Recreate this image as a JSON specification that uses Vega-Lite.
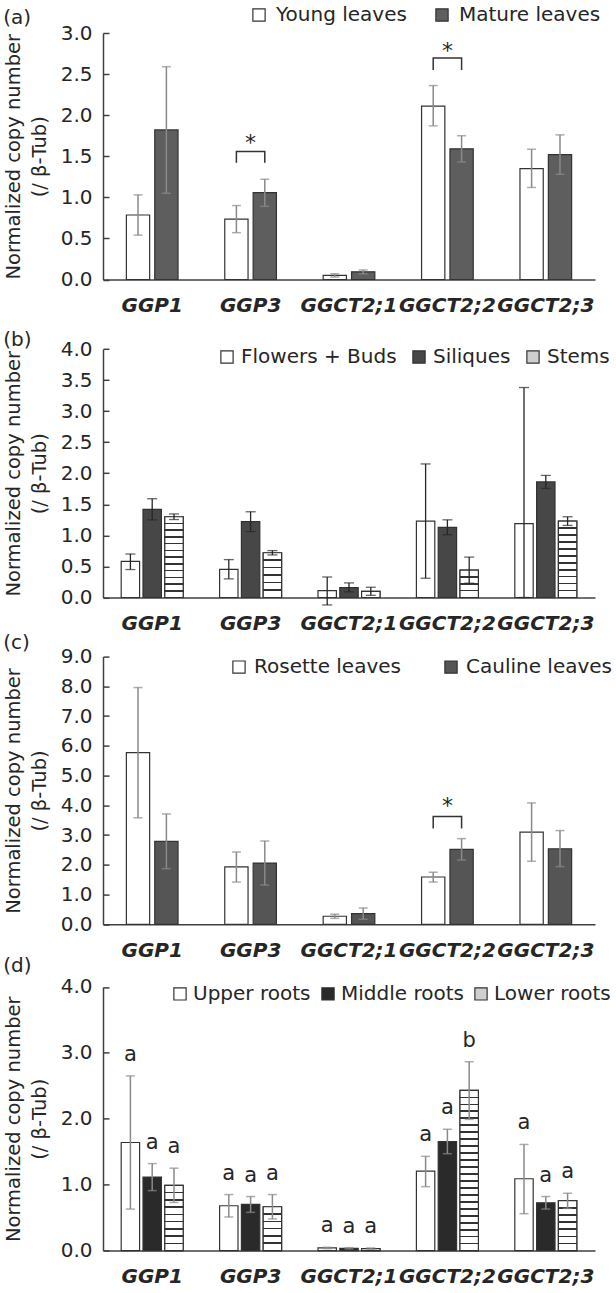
{
"$schema": "https://vega.github.io/schema/vega-lite/v6.json",
"background": "white",
"padding": {"left": 3, "top": 5, "right": 2, "bottom": 2},
"spacing": 58.8,
"bounds": "flush",
"resolve": {"scale": {"x": "independent", "y": "independent", "xOffset": "independent", "fill": "independent"}, "legend": {"fill": "independent"}},
"config": {
  "font": "DejaVu Sans",
  "view": {"stroke": null},
  "axis": {"domainColor": "#404040", "domainWidth": 1.5, "labelColor": "#262626", "titleColor": "#262626", "grid": false},
  "axisX": {"ticks": false, "labelFontSize": 20, "labelFontWeight": "bold", "labelFontStyle": "italic", "labelPadding": 16, "labelAngle": 0, "labelOverlap": false, "labelBound": false},
  "axisY": {"tickSize": -6, "tickColor": "#404040", "tickWidth": 1.5, "tickCount": 20, "labelFontSize": 20, "labelPadding": 17, "labelOverlap": false, "titleFontSize": 19.5, "titleFontWeight": "normal", "titleLineHeight": 26, "titlePadding": 11, "format": ".1f"},
  "legend": {"orient": "none", "direction": "horizontal", "symbolType": "square", "symbolSize": 150, "symbolStrokeColor": "#333333", "symbolStrokeWidth": 1.2, "labelFontSize": 20, "labelColor": "#262626", "labelLimit": 300},
  "title": {"anchor": "start", "frame": "bounds", "fontSize": 20, "fontWeight": "normal", "color": "#262626"}
},
"datasets": {
  "a": [
    {"gene": "GGP1", "tissue": "Young leaves", "value": 0.785, "lo": 0.54, "hi": 1.03},
    {"gene": "GGP1", "tissue": "Mature leaves", "value": 1.82, "lo": 1.05, "hi": 2.59},
    {"gene": "GGP3", "tissue": "Young leaves", "value": 0.735, "lo": 0.57, "hi": 0.9},
    {"gene": "GGP3", "tissue": "Mature leaves", "value": 1.057, "lo": 0.89, "hi": 1.22},
    {"gene": "GGCT2;1", "tissue": "Young leaves", "value": 0.05, "lo": 0.03, "hi": 0.07},
    {"gene": "GGCT2;1", "tissue": "Mature leaves", "value": 0.093, "lo": 0.07, "hi": 0.115},
    {"gene": "GGCT2;2", "tissue": "Young leaves", "value": 2.11, "lo": 1.87, "hi": 2.36},
    {"gene": "GGCT2;2", "tissue": "Mature leaves", "value": 1.59, "lo": 1.43, "hi": 1.75},
    {"gene": "GGCT2;3", "tissue": "Young leaves", "value": 1.35, "lo": 1.12, "hi": 1.585},
    {"gene": "GGCT2;3", "tissue": "Mature leaves", "value": 1.52, "lo": 1.28, "hi": 1.76}
  ],
  "b": [
    {"gene": "GGP1", "tissue": "Flowers + Buds", "value": 0.58, "lo": 0.45, "hi": 0.7},
    {"gene": "GGP1", "tissue": "Siliques", "value": 1.42, "lo": 1.25, "hi": 1.59},
    {"gene": "GGP1", "tissue": "Stems", "value": 1.3, "lo": 1.255, "hi": 1.345},
    {"gene": "GGP3", "tissue": "Flowers + Buds", "value": 0.454, "lo": 0.3, "hi": 0.61},
    {"gene": "GGP3", "tissue": "Siliques", "value": 1.22, "lo": 1.06, "hi": 1.38},
    {"gene": "GGP3", "tissue": "Stems", "value": 0.72, "lo": 0.685, "hi": 0.755},
    {"gene": "GGCT2;1", "tissue": "Flowers + Buds", "value": 0.11, "lo": -0.12, "hi": 0.33},
    {"gene": "GGCT2;1", "tissue": "Siliques", "value": 0.16, "lo": 0.09, "hi": 0.235},
    {"gene": "GGCT2;1", "tissue": "Stems", "value": 0.1, "lo": 0.035, "hi": 0.165},
    {"gene": "GGCT2;2", "tissue": "Flowers + Buds", "value": 1.23, "lo": 0.31, "hi": 2.15},
    {"gene": "GGCT2;2", "tissue": "Siliques", "value": 1.13, "lo": 1.01, "hi": 1.25},
    {"gene": "GGCT2;2", "tissue": "Stems", "value": 0.44, "lo": 0.23, "hi": 0.65},
    {"gene": "GGCT2;3", "tissue": "Flowers + Buds", "value": 1.19, "lo": 0, "hi": 3.38},
    {"gene": "GGCT2;3", "tissue": "Siliques", "value": 1.86, "lo": 1.755, "hi": 1.965},
    {"gene": "GGCT2;3", "tissue": "Stems", "value": 1.23, "lo": 1.16, "hi": 1.3}
  ],
  "c": [
    {"gene": "GGP1", "tissue": "Rosette leaves", "value": 5.77, "lo": 3.58, "hi": 7.96},
    {"gene": "GGP1", "tissue": "Cauline leaves", "value": 2.79, "lo": 1.87, "hi": 3.71},
    {"gene": "GGP3", "tissue": "Rosette leaves", "value": 1.93, "lo": 1.42, "hi": 2.43},
    {"gene": "GGP3", "tissue": "Cauline leaves", "value": 2.06, "lo": 1.32, "hi": 2.8},
    {"gene": "GGCT2;1", "tissue": "Rosette leaves", "value": 0.27, "lo": 0.2, "hi": 0.34},
    {"gene": "GGCT2;1", "tissue": "Cauline leaves", "value": 0.36, "lo": 0.17, "hi": 0.55},
    {"gene": "GGCT2;2", "tissue": "Rosette leaves", "value": 1.59, "lo": 1.42, "hi": 1.75},
    {"gene": "GGCT2;2", "tissue": "Cauline leaves", "value": 2.52, "lo": 2.16, "hi": 2.88},
    {"gene": "GGCT2;3", "tissue": "Rosette leaves", "value": 3.1, "lo": 2.12, "hi": 4.08},
    {"gene": "GGCT2;3", "tissue": "Cauline leaves", "value": 2.54, "lo": 1.94, "hi": 3.15}
  ],
  "d": [
    {"gene": "GGP1", "tissue": "Upper roots", "value": 1.64, "lo": 0.63, "hi": 2.65, "letter": "a"},
    {"gene": "GGP1", "tissue": "Middle roots", "value": 1.115, "lo": 0.91, "hi": 1.32, "letter": "a"},
    {"gene": "GGP1", "tissue": "Lower roots", "value": 0.99, "lo": 0.73, "hi": 1.25, "letter": "a"},
    {"gene": "GGP3", "tissue": "Upper roots", "value": 0.68, "lo": 0.51, "hi": 0.85, "letter": "a"},
    {"gene": "GGP3", "tissue": "Middle roots", "value": 0.7, "lo": 0.58, "hi": 0.82, "letter": "a"},
    {"gene": "GGP3", "tissue": "Lower roots", "value": 0.665, "lo": 0.48, "hi": 0.85, "letter": "a"},
    {"gene": "GGCT2;1", "tissue": "Upper roots", "value": 0.04, "lo": 0.03, "hi": 0.05, "letter": "a"},
    {"gene": "GGCT2;1", "tissue": "Middle roots", "value": 0.035, "lo": 0.025, "hi": 0.045, "letter": "a"},
    {"gene": "GGCT2;1", "tissue": "Lower roots", "value": 0.03, "lo": 0.02, "hi": 0.04, "letter": "a"},
    {"gene": "GGCT2;2", "tissue": "Upper roots", "value": 1.205, "lo": 0.97, "hi": 1.43, "letter": "a"},
    {"gene": "GGCT2;2", "tissue": "Middle roots", "value": 1.655, "lo": 1.47, "hi": 1.84, "letter": "a"},
    {"gene": "GGCT2;2", "tissue": "Lower roots", "value": 2.43, "lo": 1.99, "hi": 2.865, "letter": "b"},
    {"gene": "GGCT2;3", "tissue": "Upper roots", "value": 1.09, "lo": 0.56, "hi": 1.61, "letter": "a"},
    {"gene": "GGCT2;3", "tissue": "Middle roots", "value": 0.726, "lo": 0.63, "hi": 0.82, "letter": "a"},
    {"gene": "GGCT2;3", "tissue": "Lower roots", "value": 0.757, "lo": 0.64, "hi": 0.87, "letter": "a"}
  ],
  "brackets": [
    {"panel": "a", "gene": "GGP3", "tissue": "Young leaves", "y": 1.42, "k": 0},
    {"panel": "a", "gene": "GGP3", "tissue": "Young leaves", "y": 1.557, "k": 1},
    {"panel": "a", "gene": "GGP3", "tissue": "Mature leaves", "y": 1.557, "k": 2},
    {"panel": "a", "gene": "GGP3", "tissue": "Mature leaves", "y": 1.42, "k": 3},
    {"panel": "a", "gene": "GGCT2;2", "tissue": "Young leaves", "y": 2.55, "k": 0},
    {"panel": "a", "gene": "GGCT2;2", "tissue": "Young leaves", "y": 2.695, "k": 1},
    {"panel": "a", "gene": "GGCT2;2", "tissue": "Mature leaves", "y": 2.695, "k": 2},
    {"panel": "a", "gene": "GGCT2;2", "tissue": "Mature leaves", "y": 2.55, "k": 3},
    {"panel": "c", "gene": "GGCT2;2", "tissue": "Rosette leaves", "y": 3.22, "k": 0},
    {"panel": "c", "gene": "GGCT2;2", "tissue": "Rosette leaves", "y": 3.62, "k": 1},
    {"panel": "c", "gene": "GGCT2;2", "tissue": "Cauline leaves", "y": 3.62, "k": 2},
    {"panel": "c", "gene": "GGCT2;2", "tissue": "Cauline leaves", "y": 3.22, "k": 3}
  ],
  "stars": [
    {"panel": "a", "gene": "GGP3", "y": 1.72, "label": "*"},
    {"panel": "a", "gene": "GGCT2;2", "y": 2.84, "label": "*"},
    {"panel": "c", "gene": "GGCT2;2", "y": 4.15, "label": "*"}
  ]
},
"vconcat": [
  {
    "title": {"text": "(a)", "offset": -23},
    "width": 492, "height": 246.5,
    "data": {"name": "a"},
    "layer": [
      {"mark": {"type": "bar", "stroke": "#333333", "strokeWidth": 1.2},
       "encoding": {
         "x": {"field": "gene", "type": "nominal", "sort": ["GGP1","GGP3","GGCT2;1","GGCT2;2","GGCT2;3"], "title": null, "scale": {"paddingInner": 0.475, "paddingOuter": 0.2375}},
         "xOffset": {"field": "tissue", "type": "nominal", "sort": ["Young leaves","Mature leaves"], "scale": {"paddingInner": 0.18}},
         "y": {"field": "value", "type": "quantitative", "stack": null, "scale": {"domain": [0, 3]}, "axis": {"values": [0,0.5,1,1.5,2,2.5,3], "tickCount": 20, "labelOverlap": false}, "title": ["Normalized copy number", "(/ β-Tub)"]},
         "fill": {"field": "tissue", "type": "nominal", "scale": {"domain": ["Young leaves","Mature leaves"], "range": ["#ffffff","#5e5e5e"]}, "legend": {"title": null, "legendX": 146, "legendY": -28, "columnPadding": 25, "labelOffset": 7}}
       }},
      {"mark": {"type": "rule", "color": "#8a8a8a", "strokeWidth": 1.5},
       "encoding": {
         "x": {"field": "gene", "type": "nominal", "sort": ["GGP1","GGP3","GGCT2;1","GGCT2;2","GGCT2;3"], "title": null},
         "xOffset": {"field": "tissue", "type": "nominal", "sort": ["Young leaves","Mature leaves"]},
         "y": {"field": "lo", "type": "quantitative"}, "y2": {"field": "hi"}}},
      {"mark": {"type": "tick", "orient": "horizontal", "size": 9, "thickness": 1.5, "color": "#8a8a8a"},
       "encoding": {
         "x": {"field": "gene", "type": "nominal", "sort": ["GGP1","GGP3","GGCT2;1","GGCT2;2","GGCT2;3"], "title": null},
         "xOffset": {"field": "tissue", "type": "nominal", "sort": ["Young leaves","Mature leaves"]},
         "y": {"field": "hi", "type": "quantitative"}}},
      {"mark": {"type": "tick", "orient": "horizontal", "size": 9, "thickness": 1.5, "color": "#8a8a8a"},
       "encoding": {
         "x": {"field": "gene", "type": "nominal", "sort": ["GGP1","GGP3","GGCT2;1","GGCT2;2","GGCT2;3"], "title": null},
         "xOffset": {"field": "tissue", "type": "nominal", "sort": ["Young leaves","Mature leaves"]},
         "y": {"field": "lo", "type": "quantitative"}}},
      {"data": {"name": "brackets"}, "transform": [{"filter": "datum.panel == 'a'"}],
       "mark": {"type": "line", "color": "#333333", "strokeWidth": 1.5},
       "encoding": {
         "x": {"field": "gene", "type": "nominal", "sort": ["GGP1","GGP3","GGCT2;1","GGCT2;2","GGCT2;3"], "title": null},
         "xOffset": {"field": "tissue", "type": "nominal", "sort": ["Young leaves","Mature leaves"]},
         "y": {"field": "y", "type": "quantitative"},
         "detail": {"field": "gene", "type": "nominal"},
         "order": {"field": "k", "type": "quantitative"}}},
      {"data": {"name": "stars"}, "transform": [{"filter": "datum.panel == 'a'"}],
       "mark": {"type": "text", "fontSize": 22, "baseline": "alphabetic", "dy": 12, "color": "#262626"},
       "encoding": {
         "x": {"field": "gene", "type": "nominal", "sort": ["GGP1","GGP3","GGCT2;1","GGCT2;2","GGCT2;3"], "title": null},
         "y": {"field": "y", "type": "quantitative"},
         "text": {"field": "label"}}}
    ]
  },
  {
    "title": {"text": "(b)", "offset": -11},
    "width": 492, "height": 258.7,
    "data": {"name": "b"},
    "layer": [
      {"mark": {"type": "bar", "stroke": "#333333", "strokeWidth": 1.2},
       "encoding": {
         "x": {"field": "gene", "type": "nominal", "sort": ["GGP1","GGP3","GGCT2;1","GGCT2;2","GGCT2;3"], "title": null, "scale": {"paddingInner": 0.37, "paddingOuter": 0.185}},
         "xOffset": {"field": "tissue", "type": "nominal", "sort": ["Flowers + Buds","Siliques","Stems"], "scale": {"paddingInner": 0.156}},
         "y": {"field": "value", "type": "quantitative", "stack": null, "scale": {"domain": [0, 4], "range": [258.7, 10.2]}, "axis": {"values": [0,0.5,1,1.5,2,2.5,3,3.5,4], "tickCount": 20, "labelOverlap": false}, "title": ["Normalized copy number", "(/ β-Tub)"]},
         "fill": {"field": "tissue", "type": "nominal", "scale": {"domain": ["Flowers + Buds","Siliques","Stems"], "range": ["#ffffff","#474747","#cfcfcf"]}, "legend": {"title": null, "legendX": 114, "legendY": 8.2, "columnPadding": 12, "labelOffset": 4}}
       }},
      {"transform": [{"filter": "datum.tissue == 'Stems' && datum.gene == 'GGP1'"}],
       "mark": {"type": "bar", "stroke": "#333333", "strokeWidth": 1.2, "fill": {"gradient": "linear", "x1": 0, "y1": 0, "x2": 0, "y2": 1, "stops": [
         {"offset": 0, "color": "#fff"},
         {"offset": 0.0734, "color": "#fff"}, {"offset": 0.0734, "color": "#333"}, {"offset": 0.0932, "color": "#333"}, {"offset": 0.0932, "color": "#fff"},
         {"offset": 0.1568, "color": "#fff"}, {"offset": 0.1568, "color": "#333"}, {"offset": 0.1766, "color": "#333"}, {"offset": 0.1766, "color": "#fff"},
         {"offset": 0.2401, "color": "#fff"}, {"offset": 0.2401, "color": "#333"}, {"offset": 0.2599, "color": "#333"}, {"offset": 0.2599, "color": "#fff"},
         {"offset": 0.3234, "color": "#fff"}, {"offset": 0.3234, "color": "#333"}, {"offset": 0.3432, "color": "#333"}, {"offset": 0.3432, "color": "#fff"},
         {"offset": 0.4068, "color": "#fff"}, {"offset": 0.4068, "color": "#333"}, {"offset": 0.4266, "color": "#333"}, {"offset": 0.4266, "color": "#fff"},
         {"offset": 0.4901, "color": "#fff"}, {"offset": 0.4901, "color": "#333"}, {"offset": 0.5099, "color": "#333"}, {"offset": 0.5099, "color": "#fff"},
         {"offset": 0.5734, "color": "#fff"}, {"offset": 0.5734, "color": "#333"}, {"offset": 0.5932, "color": "#333"}, {"offset": 0.5932, "color": "#fff"},
         {"offset": 0.6568, "color": "#fff"}, {"offset": 0.6568, "color": "#333"}, {"offset": 0.6766, "color": "#333"}, {"offset": 0.6766, "color": "#fff"},
         {"offset": 0.7401, "color": "#fff"}, {"offset": 0.7401, "color": "#333"}, {"offset": 0.7599, "color": "#333"}, {"offset": 0.7599, "color": "#fff"},
         {"offset": 0.8234, "color": "#fff"}, {"offset": 0.8234, "color": "#333"}, {"offset": 0.8432, "color": "#333"}, {"offset": 0.8432, "color": "#fff"},
         {"offset": 0.9068, "color": "#fff"}, {"offset": 0.9068, "color": "#333"}, {"offset": 0.9266, "color": "#333"}, {"offset": 0.9266, "color": "#fff"},
         {"offset": 1, "color": "#fff"}]}},
       "encoding": {
         "x": {"field": "gene", "type": "nominal", "sort": ["GGP1","GGP3","GGCT2;1","GGCT2;2","GGCT2;3"], "title": null},
         "xOffset": {"field": "tissue", "type": "nominal", "sort": ["Flowers + Buds","Siliques","Stems"]},
         "y": {"field": "value", "type": "quantitative", "stack": null}}},
      {"transform": [{"filter": "datum.tissue == 'Stems' && datum.gene == 'GGP3'"}],
       "mark": {"type": "bar", "stroke": "#333333", "strokeWidth": 1.2, "fill": {"gradient": "linear", "x1": 0, "y1": 0, "x2": 0, "y2": 1, "stops": [
         {"offset": 0, "color": "#fff"},
         {"offset": 0.1488, "color": "#fff"}, {"offset": 0.1488, "color": "#333"}, {"offset": 0.1846, "color": "#333"}, {"offset": 0.1846, "color": "#fff"},
         {"offset": 0.3154, "color": "#fff"}, {"offset": 0.3154, "color": "#333"}, {"offset": 0.3512, "color": "#333"}, {"offset": 0.3512, "color": "#fff"},
         {"offset": 0.4821, "color": "#fff"}, {"offset": 0.4821, "color": "#333"}, {"offset": 0.5179, "color": "#333"}, {"offset": 0.5179, "color": "#fff"},
         {"offset": 0.6488, "color": "#fff"}, {"offset": 0.6488, "color": "#333"}, {"offset": 0.6846, "color": "#333"}, {"offset": 0.6846, "color": "#fff"},
         {"offset": 0.8154, "color": "#fff"}, {"offset": 0.8154, "color": "#333"}, {"offset": 0.8512, "color": "#333"}, {"offset": 0.8512, "color": "#fff"},
         {"offset": 1, "color": "#fff"}]}},
       "encoding": {
         "x": {"field": "gene", "type": "nominal", "sort": ["GGP1","GGP3","GGCT2;1","GGCT2;2","GGCT2;3"], "title": null},
         "xOffset": {"field": "tissue", "type": "nominal", "sort": ["Flowers + Buds","Siliques","Stems"]},
         "y": {"field": "value", "type": "quantitative", "stack": null}}},
      {"transform": [{"filter": "datum.tissue == 'Stems' && datum.gene == 'GGCT2;1'"}],
       "mark": {"type": "bar", "stroke": "#333333", "strokeWidth": 1.2, "fill": "#ffffff"},
       "encoding": {
         "x": {"field": "gene", "type": "nominal", "sort": ["GGP1","GGP3","GGCT2;1","GGCT2;2","GGCT2;3"], "title": null},
         "xOffset": {"field": "tissue", "type": "nominal", "sort": ["Flowers + Buds","Siliques","Stems"]},
         "y": {"field": "value", "type": "quantitative", "stack": null}}},
      {"transform": [{"filter": "datum.tissue == 'Stems' && datum.gene == 'GGCT2;2'"}],
       "mark": {"type": "bar", "stroke": "#333333", "strokeWidth": 1.2, "fill": {"gradient": "linear", "x1": 0, "y1": 0, "x2": 0, "y2": 1, "stops": [
         {"offset": 0, "color": "#fff"},
         {"offset": 0.2207, "color": "#fff"}, {"offset": 0.2207, "color": "#333"}, {"offset": 0.2793, "color": "#333"}, {"offset": 0.2793, "color": "#fff"},
         {"offset": 0.4707, "color": "#fff"}, {"offset": 0.4707, "color": "#333"}, {"offset": 0.5293, "color": "#333"}, {"offset": 0.5293, "color": "#fff"},
         {"offset": 0.7207, "color": "#fff"}, {"offset": 0.7207, "color": "#333"}, {"offset": 0.7793, "color": "#333"}, {"offset": 0.7793, "color": "#fff"},
         {"offset": 1, "color": "#fff"}]}},
       "encoding": {
         "x": {"field": "gene", "type": "nominal", "sort": ["GGP1","GGP3","GGCT2;1","GGCT2;2","GGCT2;3"], "title": null},
         "xOffset": {"field": "tissue", "type": "nominal", "sort": ["Flowers + Buds","Siliques","Stems"]},
         "y": {"field": "value", "type": "quantitative", "stack": null}}},
      {"transform": [{"filter": "datum.tissue == 'Stems' && datum.gene == 'GGCT2;3'"}],
       "mark": {"type": "bar", "stroke": "#333333", "strokeWidth": 1.2, "fill": {"gradient": "linear", "x1": 0, "y1": 0, "x2": 0, "y2": 1, "stops": [
         {"offset": 0, "color": "#fff"},
         {"offset": 0.0804, "color": "#fff"}, {"offset": 0.0804, "color": "#333"}, {"offset": 0.1014, "color": "#333"}, {"offset": 0.1014, "color": "#fff"},
         {"offset": 0.1713, "color": "#fff"}, {"offset": 0.1713, "color": "#333"}, {"offset": 0.1923, "color": "#333"}, {"offset": 0.1923, "color": "#fff"},
         {"offset": 0.2622, "color": "#fff"}, {"offset": 0.2622, "color": "#333"}, {"offset": 0.2832, "color": "#333"}, {"offset": 0.2832, "color": "#fff"},
         {"offset": 0.3531, "color": "#fff"}, {"offset": 0.3531, "color": "#333"}, {"offset": 0.3741, "color": "#333"}, {"offset": 0.3741, "color": "#fff"},
         {"offset": 0.4440, "color": "#fff"}, {"offset": 0.4440, "color": "#333"}, {"offset": 0.4650, "color": "#333"}, {"offset": 0.4650, "color": "#fff"},
         {"offset": 0.5350, "color": "#fff"}, {"offset": 0.5350, "color": "#333"}, {"offset": 0.5560, "color": "#333"}, {"offset": 0.5560, "color": "#fff"},
         {"offset": 0.6259, "color": "#fff"}, {"offset": 0.6259, "color": "#333"}, {"offset": 0.6469, "color": "#333"}, {"offset": 0.6469, "color": "#fff"},
         {"offset": 0.7168, "color": "#fff"}, {"offset": 0.7168, "color": "#333"}, {"offset": 0.7378, "color": "#333"}, {"offset": 0.7378, "color": "#fff"},
         {"offset": 0.8077, "color": "#fff"}, {"offset": 0.8077, "color": "#333"}, {"offset": 0.8287, "color": "#333"}, {"offset": 0.8287, "color": "#fff"},
         {"offset": 0.8986, "color": "#fff"}, {"offset": 0.8986, "color": "#333"}, {"offset": 0.9196, "color": "#333"}, {"offset": 0.9196, "color": "#fff"},
         {"offset": 1, "color": "#fff"}]}},
       "encoding": {
         "x": {"field": "gene", "type": "nominal", "sort": ["GGP1","GGP3","GGCT2;1","GGCT2;2","GGCT2;3"], "title": null},
         "xOffset": {"field": "tissue", "type": "nominal", "sort": ["Flowers + Buds","Siliques","Stems"]},
         "y": {"field": "value", "type": "quantitative", "stack": null}}},
      {"mark": {"type": "rule", "color": "#262626", "strokeWidth": 1.3},
       "encoding": {
         "x": {"field": "gene", "type": "nominal", "sort": ["GGP1","GGP3","GGCT2;1","GGCT2;2","GGCT2;3"], "title": null},
         "xOffset": {"field": "tissue", "type": "nominal", "sort": ["Flowers + Buds","Siliques","Stems"]},
         "y": {"field": "lo", "type": "quantitative"}, "y2": {"field": "hi"}}},
      {"mark": {"type": "tick", "orient": "horizontal", "size": 10, "thickness": 1.3, "color": "#262626"},
       "encoding": {
         "x": {"field": "gene", "type": "nominal", "sort": ["GGP1","GGP3","GGCT2;1","GGCT2;2","GGCT2;3"], "title": null},
         "xOffset": {"field": "tissue", "type": "nominal", "sort": ["Flowers + Buds","Siliques","Stems"]},
         "y": {"field": "hi", "type": "quantitative"}}},
      {"mark": {"type": "tick", "orient": "horizontal", "size": 10, "thickness": 1.3, "color": "#262626"},
       "encoding": {
         "x": {"field": "gene", "type": "nominal", "sort": ["GGP1","GGP3","GGCT2;1","GGCT2;2","GGCT2;3"], "title": null},
         "xOffset": {"field": "tissue", "type": "nominal", "sort": ["Flowers + Buds","Siliques","Stems"]},
         "y": {"field": "lo", "type": "quantitative"}}}
    ]
  },
  {
    "title": {"text": "(c)", "offset": -6},
    "width": 492, "height": 267.7,
    "data": {"name": "c"},
    "layer": [
      {"mark": {"type": "bar", "stroke": "#333333", "strokeWidth": 1.2},
       "encoding": {
         "x": {"field": "gene", "type": "nominal", "sort": ["GGP1","GGP3","GGCT2;1","GGCT2;2","GGCT2;3"], "title": null, "scale": {"paddingInner": 0.475, "paddingOuter": 0.2375}},
         "xOffset": {"field": "tissue", "type": "nominal", "sort": ["Rosette leaves","Cauline leaves"], "scale": {"paddingInner": 0.18}},
         "y": {"field": "value", "type": "quantitative", "stack": null, "scale": {"domain": [0, 9]}, "axis": {"values": [0,1,2,3,4,5,6,7,8,9], "tickCount": 20, "labelOverlap": false}, "title": ["Normalized copy number", "(/ β-Tub)"]},
         "fill": {"field": "tissue", "type": "nominal", "scale": {"domain": ["Rosette leaves","Cauline leaves"], "range": ["#ffffff","#555555"]}, "legend": {"title": null, "legendX": 126, "legendY": 0.5, "columnPadding": 40, "labelOffset": 5}}
       }},
      {"mark": {"type": "rule", "color": "#8a8a8a", "strokeWidth": 1.5},
       "encoding": {
         "x": {"field": "gene", "type": "nominal", "sort": ["GGP1","GGP3","GGCT2;1","GGCT2;2","GGCT2;3"], "title": null},
         "xOffset": {"field": "tissue", "type": "nominal", "sort": ["Rosette leaves","Cauline leaves"]},
         "y": {"field": "lo", "type": "quantitative"}, "y2": {"field": "hi"}}},
      {"mark": {"type": "tick", "orient": "horizontal", "size": 9, "thickness": 1.5, "color": "#8a8a8a"},
       "encoding": {
         "x": {"field": "gene", "type": "nominal", "sort": ["GGP1","GGP3","GGCT2;1","GGCT2;2","GGCT2;3"], "title": null},
         "xOffset": {"field": "tissue", "type": "nominal", "sort": ["Rosette leaves","Cauline leaves"]},
         "y": {"field": "hi", "type": "quantitative"}}},
      {"mark": {"type": "tick", "orient": "horizontal", "size": 9, "thickness": 1.5, "color": "#8a8a8a"},
       "encoding": {
         "x": {"field": "gene", "type": "nominal", "sort": ["GGP1","GGP3","GGCT2;1","GGCT2;2","GGCT2;3"], "title": null},
         "xOffset": {"field": "tissue", "type": "nominal", "sort": ["Rosette leaves","Cauline leaves"]},
         "y": {"field": "lo", "type": "quantitative"}}},
      {"data": {"name": "brackets"}, "transform": [{"filter": "datum.panel == 'c'"}],
       "mark": {"type": "line", "color": "#333333", "strokeWidth": 1.5},
       "encoding": {
         "x": {"field": "gene", "type": "nominal", "sort": ["GGP1","GGP3","GGCT2;1","GGCT2;2","GGCT2;3"], "title": null},
         "xOffset": {"field": "tissue", "type": "nominal", "sort": ["Rosette leaves","Cauline leaves"]},
         "y": {"field": "y", "type": "quantitative"},
         "detail": {"field": "gene", "type": "nominal"},
         "order": {"field": "k", "type": "quantitative"}}},
      {"data": {"name": "stars"}, "transform": [{"filter": "datum.panel == 'c'"}],
       "mark": {"type": "text", "fontSize": 22, "baseline": "alphabetic", "dy": 12, "color": "#262626"},
       "encoding": {
         "x": {"field": "gene", "type": "nominal", "sort": ["GGP1","GGP3","GGCT2;1","GGCT2;2","GGCT2;3"], "title": null},
         "y": {"field": "y", "type": "quantitative"},
         "text": {"field": "label"}}}
    ]
  },
  {
    "title": {"text": "(d)", "offset": 1},
    "width": 492, "height": 267.2,
    "data": {"name": "d"},
    "layer": [
      {"mark": {"type": "bar", "stroke": "#333333", "strokeWidth": 1.2},
       "encoding": {
         "x": {"field": "gene", "type": "nominal", "sort": ["GGP1","GGP3","GGCT2;1","GGCT2;2","GGCT2;3"], "title": null, "scale": {"paddingInner": 0.37, "paddingOuter": 0.185}},
         "xOffset": {"field": "tissue", "type": "nominal", "sort": ["Upper roots","Middle roots","Lower roots"], "scale": {"paddingInner": 0.156}},
         "y": {"field": "value", "type": "quantitative", "stack": null, "scale": {"domain": [0, 4], "range": [267.2, 3.5]}, "axis": {"values": [0,1,2,3,4], "tickCount": 20, "labelOverlap": false}, "title": ["Normalized copy number", "(/ β-Tub)"]},
         "fill": {"field": "tissue", "type": "nominal", "scale": {"domain": ["Upper roots","Middle roots","Lower roots"], "range": ["#ffffff","#2a2a2a","#cfcfcf"]}, "legend": {"title": null, "legendX": 67, "legendY": 0.5, "columnPadding": 7, "labelOffset": 3}}
       }},
      {"transform": [{"filter": "datum.tissue == 'Lower roots' && datum.gene == 'GGP1'"}],
       "mark": {"type": "bar", "stroke": "#333333", "strokeWidth": 1.2, "fill": {"gradient": "linear", "x1": 0, "y1": 0, "x2": 0, "y2": 1, "stops": [
         {"offset": 0, "color": "#fff"},
         {"offset": 0.0988, "color": "#fff"}, {"offset": 0.0988, "color": "#333"}, {"offset": 0.1234, "color": "#333"}, {"offset": 0.1234, "color": "#fff"},
         {"offset": 0.2099, "color": "#fff"}, {"offset": 0.2099, "color": "#333"}, {"offset": 0.2345, "color": "#333"}, {"offset": 0.2345, "color": "#fff"},
         {"offset": 0.3210, "color": "#fff"}, {"offset": 0.3210, "color": "#333"}, {"offset": 0.3456, "color": "#333"}, {"offset": 0.3456, "color": "#fff"},
         {"offset": 0.4321, "color": "#fff"}, {"offset": 0.4321, "color": "#333"}, {"offset": 0.4567, "color": "#333"}, {"offset": 0.4567, "color": "#fff"},
         {"offset": 0.5433, "color": "#fff"}, {"offset": 0.5433, "color": "#333"}, {"offset": 0.5679, "color": "#333"}, {"offset": 0.5679, "color": "#fff"},
         {"offset": 0.6544, "color": "#fff"}, {"offset": 0.6544, "color": "#333"}, {"offset": 0.6790, "color": "#333"}, {"offset": 0.6790, "color": "#fff"},
         {"offset": 0.7655, "color": "#fff"}, {"offset": 0.7655, "color": "#333"}, {"offset": 0.7901, "color": "#333"}, {"offset": 0.7901, "color": "#fff"},
         {"offset": 0.8766, "color": "#fff"}, {"offset": 0.8766, "color": "#333"}, {"offset": 0.9012, "color": "#333"}, {"offset": 0.9012, "color": "#fff"},
         {"offset": 1, "color": "#fff"}]}},
       "encoding": {
         "x": {"field": "gene", "type": "nominal", "sort": ["GGP1","GGP3","GGCT2;1","GGCT2;2","GGCT2;3"], "title": null},
         "xOffset": {"field": "tissue", "type": "nominal", "sort": ["Upper roots","Middle roots","Lower roots"]},
         "y": {"field": "value", "type": "quantitative", "stack": null}}},
      {"transform": [{"filter": "datum.tissue == 'Lower roots' && datum.gene == 'GGP3'"}],
       "mark": {"type": "bar", "stroke": "#333333", "strokeWidth": 1.2, "fill": {"gradient": "linear", "x1": 0, "y1": 0, "x2": 0, "y2": 1, "stops": [
         {"offset": 0, "color": "#fff"},
         {"offset": 0.1485, "color": "#fff"}, {"offset": 0.1485, "color": "#333"}, {"offset": 0.1849, "color": "#333"}, {"offset": 0.1849, "color": "#fff"},
         {"offset": 0.3151, "color": "#fff"}, {"offset": 0.3151, "color": "#333"}, {"offset": 0.3515, "color": "#333"}, {"offset": 0.3515, "color": "#fff"},
         {"offset": 0.4818, "color": "#fff"}, {"offset": 0.4818, "color": "#333"}, {"offset": 0.5182, "color": "#333"}, {"offset": 0.5182, "color": "#fff"},
         {"offset": 0.6485, "color": "#fff"}, {"offset": 0.6485, "color": "#333"}, {"offset": 0.6849, "color": "#333"}, {"offset": 0.6849, "color": "#fff"},
         {"offset": 0.8151, "color": "#fff"}, {"offset": 0.8151, "color": "#333"}, {"offset": 0.8515, "color": "#333"}, {"offset": 0.8515, "color": "#fff"},
         {"offset": 1, "color": "#fff"}]}},
       "encoding": {
         "x": {"field": "gene", "type": "nominal", "sort": ["GGP1","GGP3","GGCT2;1","GGCT2;2","GGCT2;3"], "title": null},
         "xOffset": {"field": "tissue", "type": "nominal", "sort": ["Upper roots","Middle roots","Lower roots"]},
         "y": {"field": "value", "type": "quantitative", "stack": null}}},
      {"transform": [{"filter": "datum.tissue == 'Lower roots' && datum.gene == 'GGCT2;1'"}],
       "mark": {"type": "bar", "stroke": "#333333", "strokeWidth": 1.2, "fill": "#ffffff"},
       "encoding": {
         "x": {"field": "gene", "type": "nominal", "sort": ["GGP1","GGP3","GGCT2;1","GGCT2;2","GGCT2;3"], "title": null},
         "xOffset": {"field": "tissue", "type": "nominal", "sort": ["Upper roots","Middle roots","Lower roots"]},
         "y": {"field": "value", "type": "quantitative", "stack": null}}},
      {"transform": [{"filter": "datum.tissue == 'Lower roots' && datum.gene == 'GGCT2;2'"}],
       "mark": {"type": "bar", "stroke": "#333333", "strokeWidth": 1.2, "fill": {"gradient": "linear", "x1": 0, "y1": 0, "x2": 0, "y2": 1, "stops": [
         {"offset": 0, "color": "#fff"},
         {"offset": 0.0385, "color": "#fff"}, {"offset": 0.0385, "color": "#333"}, {"offset": 0.0485, "color": "#333"}, {"offset": 0.0485, "color": "#fff"},
         {"offset": 0.0820, "color": "#fff"}, {"offset": 0.0820, "color": "#333"}, {"offset": 0.0920, "color": "#333"}, {"offset": 0.0920, "color": "#fff"},
         {"offset": 0.1254, "color": "#fff"}, {"offset": 0.1254, "color": "#333"}, {"offset": 0.1354, "color": "#333"}, {"offset": 0.1354, "color": "#fff"},
         {"offset": 0.1689, "color": "#fff"}, {"offset": 0.1689, "color": "#333"}, {"offset": 0.1789, "color": "#333"}, {"offset": 0.1789, "color": "#fff"},
         {"offset": 0.2124, "color": "#fff"}, {"offset": 0.2124, "color": "#333"}, {"offset": 0.2224, "color": "#333"}, {"offset": 0.2224, "color": "#fff"},
         {"offset": 0.2559, "color": "#fff"}, {"offset": 0.2559, "color": "#333"}, {"offset": 0.2659, "color": "#333"}, {"offset": 0.2659, "color": "#fff"},
         {"offset": 0.2993, "color": "#fff"}, {"offset": 0.2993, "color": "#333"}, {"offset": 0.3093, "color": "#333"}, {"offset": 0.3093, "color": "#fff"},
         {"offset": 0.3428, "color": "#fff"}, {"offset": 0.3428, "color": "#333"}, {"offset": 0.3528, "color": "#333"}, {"offset": 0.3528, "color": "#fff"},
         {"offset": 0.3863, "color": "#fff"}, {"offset": 0.3863, "color": "#333"}, {"offset": 0.3963, "color": "#333"}, {"offset": 0.3963, "color": "#fff"},
         {"offset": 0.4298, "color": "#fff"}, {"offset": 0.4298, "color": "#333"}, {"offset": 0.4398, "color": "#333"}, {"offset": 0.4398, "color": "#fff"},
         {"offset": 0.4733, "color": "#fff"}, {"offset": 0.4733, "color": "#333"}, {"offset": 0.4833, "color": "#333"}, {"offset": 0.4833, "color": "#fff"},
         {"offset": 0.5167, "color": "#fff"}, {"offset": 0.5167, "color": "#333"}, {"offset": 0.5267, "color": "#333"}, {"offset": 0.5267, "color": "#fff"},
         {"offset": 0.5602, "color": "#fff"}, {"offset": 0.5602, "color": "#333"}, {"offset": 0.5702, "color": "#333"}, {"offset": 0.5702, "color": "#fff"},
         {"offset": 0.6037, "color": "#fff"}, {"offset": 0.6037, "color": "#333"}, {"offset": 0.6137, "color": "#333"}, {"offset": 0.6137, "color": "#fff"},
         {"offset": 0.6472, "color": "#fff"}, {"offset": 0.6472, "color": "#333"}, {"offset": 0.6572, "color": "#333"}, {"offset": 0.6572, "color": "#fff"},
         {"offset": 0.6907, "color": "#fff"}, {"offset": 0.6907, "color": "#333"}, {"offset": 0.7007, "color": "#333"}, {"offset": 0.7007, "color": "#fff"},
         {"offset": 0.7341, "color": "#fff"}, {"offset": 0.7341, "color": "#333"}, {"offset": 0.7441, "color": "#333"}, {"offset": 0.7441, "color": "#fff"},
         {"offset": 0.7776, "color": "#fff"}, {"offset": 0.7776, "color": "#333"}, {"offset": 0.7876, "color": "#333"}, {"offset": 0.7876, "color": "#fff"},
         {"offset": 0.8211, "color": "#fff"}, {"offset": 0.8211, "color": "#333"}, {"offset": 0.8311, "color": "#333"}, {"offset": 0.8311, "color": "#fff"},
         {"offset": 0.8646, "color": "#fff"}, {"offset": 0.8646, "color": "#333"}, {"offset": 0.8746, "color": "#333"}, {"offset": 0.8746, "color": "#fff"},
         {"offset": 0.9080, "color": "#fff"}, {"offset": 0.9080, "color": "#333"}, {"offset": 0.9180, "color": "#333"}, {"offset": 0.9180, "color": "#fff"},
         {"offset": 0.9515, "color": "#fff"}, {"offset": 0.9515, "color": "#333"}, {"offset": 0.9615, "color": "#333"}, {"offset": 0.9615, "color": "#fff"},
         {"offset": 1, "color": "#fff"}]}},
       "encoding": {
         "x": {"field": "gene", "type": "nominal", "sort": ["GGP1","GGP3","GGCT2;1","GGCT2;2","GGCT2;3"], "title": null},
         "xOffset": {"field": "tissue", "type": "nominal", "sort": ["Upper roots","Middle roots","Lower roots"]},
         "y": {"field": "value", "type": "quantitative", "stack": null}}},
      {"transform": [{"filter": "datum.tissue == 'Lower roots' && datum.gene == 'GGCT2;3'"}],
       "mark": {"type": "bar", "stroke": "#333333", "strokeWidth": 1.2, "fill": {"gradient": "linear", "x1": 0, "y1": 0, "x2": 0, "y2": 1, "stops": [
         {"offset": 0, "color": "#fff"},
         {"offset": 0.1269, "color": "#fff"}, {"offset": 0.1269, "color": "#333"}, {"offset": 0.1589, "color": "#333"}, {"offset": 0.1589, "color": "#fff"},
         {"offset": 0.2697, "color": "#fff"}, {"offset": 0.2697, "color": "#333"}, {"offset": 0.3017, "color": "#333"}, {"offset": 0.3017, "color": "#fff"},
         {"offset": 0.4126, "color": "#fff"}, {"offset": 0.4126, "color": "#333"}, {"offset": 0.4446, "color": "#333"}, {"offset": 0.4446, "color": "#fff"},
         {"offset": 0.5554, "color": "#fff"}, {"offset": 0.5554, "color": "#333"}, {"offset": 0.5874, "color": "#333"}, {"offset": 0.5874, "color": "#fff"},
         {"offset": 0.6983, "color": "#fff"}, {"offset": 0.6983, "color": "#333"}, {"offset": 0.7303, "color": "#333"}, {"offset": 0.7303, "color": "#fff"},
         {"offset": 0.8411, "color": "#fff"}, {"offset": 0.8411, "color": "#333"}, {"offset": 0.8731, "color": "#333"}, {"offset": 0.8731, "color": "#fff"},
         {"offset": 1, "color": "#fff"}]}},
       "encoding": {
         "x": {"field": "gene", "type": "nominal", "sort": ["GGP1","GGP3","GGCT2;1","GGCT2;2","GGCT2;3"], "title": null},
         "xOffset": {"field": "tissue", "type": "nominal", "sort": ["Upper roots","Middle roots","Lower roots"]},
         "y": {"field": "value", "type": "quantitative", "stack": null}}},
      {"mark": {"type": "rule", "color": "#8a8a8a", "strokeWidth": 1.5},
       "encoding": {
         "x": {"field": "gene", "type": "nominal", "sort": ["GGP1","GGP3","GGCT2;1","GGCT2;2","GGCT2;3"], "title": null},
         "xOffset": {"field": "tissue", "type": "nominal", "sort": ["Upper roots","Middle roots","Lower roots"]},
         "y": {"field": "lo", "type": "quantitative"}, "y2": {"field": "hi"}}},
      {"mark": {"type": "tick", "orient": "horizontal", "size": 9, "thickness": 1.5, "color": "#8a8a8a"},
       "encoding": {
         "x": {"field": "gene", "type": "nominal", "sort": ["GGP1","GGP3","GGCT2;1","GGCT2;2","GGCT2;3"], "title": null},
         "xOffset": {"field": "tissue", "type": "nominal", "sort": ["Upper roots","Middle roots","Lower roots"]},
         "y": {"field": "hi", "type": "quantitative"}}},
      {"mark": {"type": "tick", "orient": "horizontal", "size": 9, "thickness": 1.5, "color": "#8a8a8a"},
       "encoding": {
         "x": {"field": "gene", "type": "nominal", "sort": ["GGP1","GGP3","GGCT2;1","GGCT2;2","GGCT2;3"], "title": null},
         "xOffset": {"field": "tissue", "type": "nominal", "sort": ["Upper roots","Middle roots","Lower roots"]},
         "y": {"field": "lo", "type": "quantitative"}}},
      {"mark": {"type": "text", "fontSize": 21, "baseline": "alphabetic", "dy": -15, "color": "#262626"},
       "encoding": {
         "x": {"field": "gene", "type": "nominal", "sort": ["GGP1","GGP3","GGCT2;1","GGCT2;2","GGCT2;3"], "title": null},
         "xOffset": {"field": "tissue", "type": "nominal", "sort": ["Upper roots","Middle roots","Lower roots"]},
         "y": {"field": "hi", "type": "quantitative"},
         "text": {"field": "letter"}}}
    ]
  }
]
}
